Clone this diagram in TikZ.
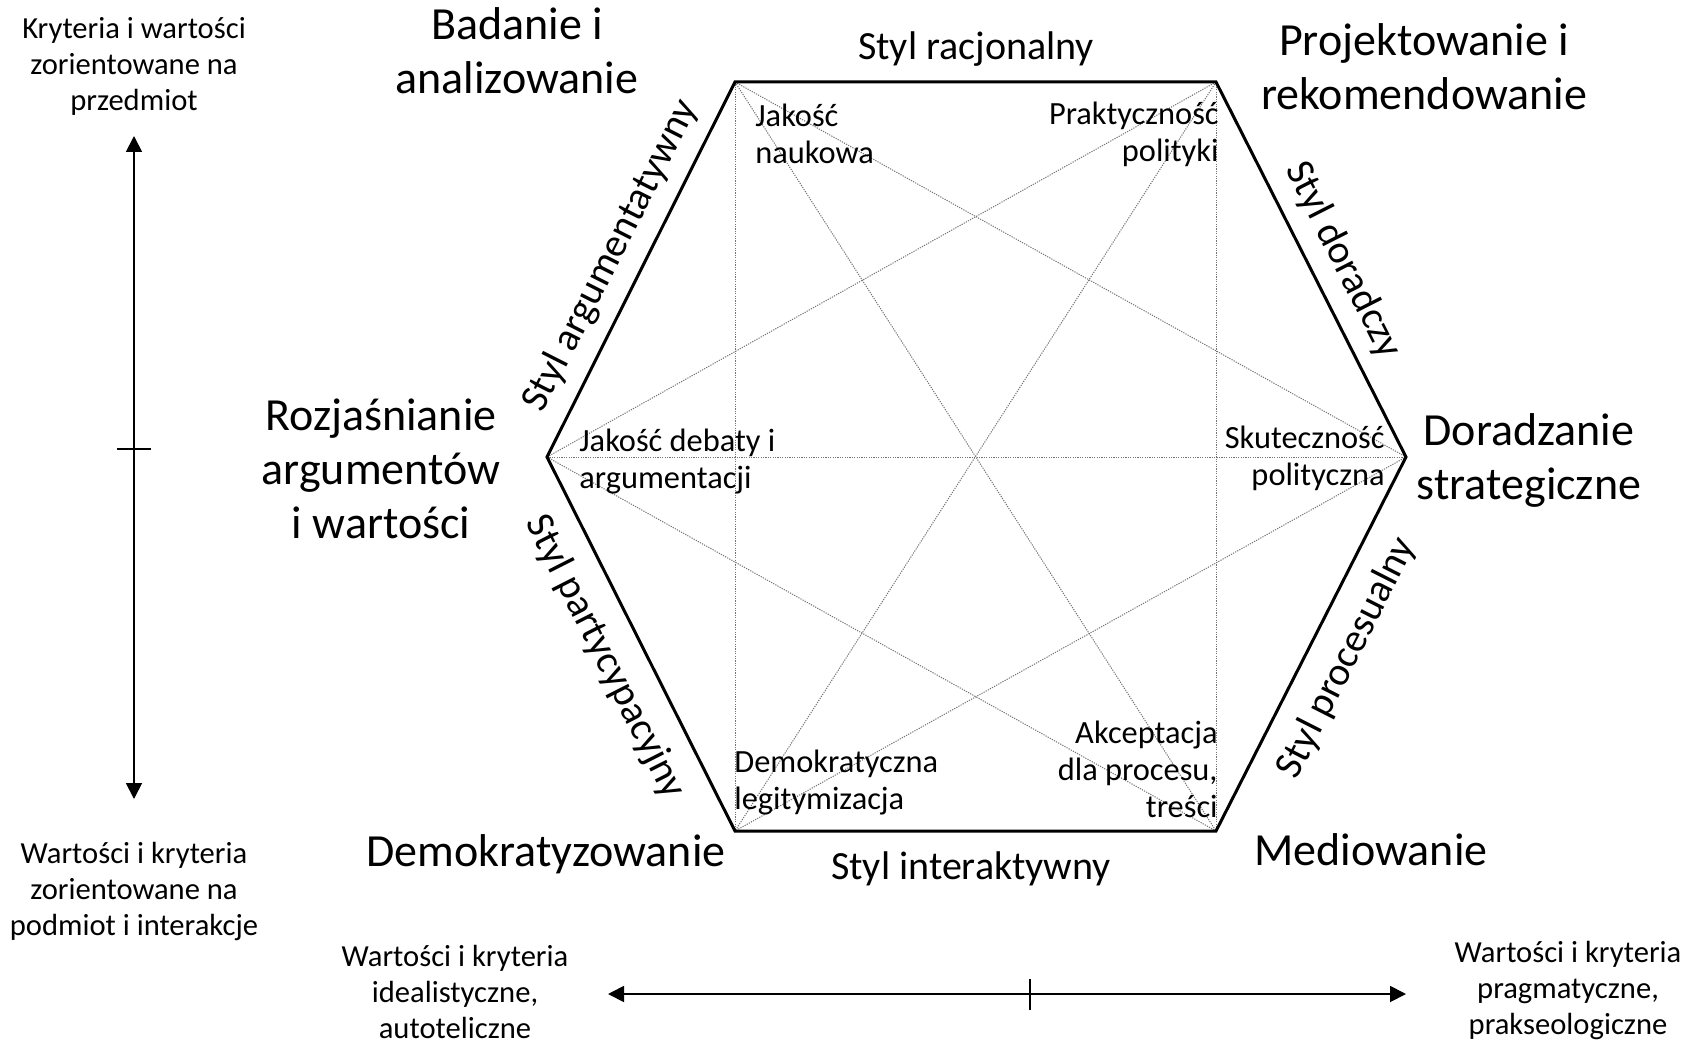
\documentclass[tikz,border=0pt]{standalone}
\usepackage{fontspec}
\setmainfont{Carlito}
\usetikzlibrary{arrows.meta}
\tikzset{
  big/.style={font=\fontsize{23}{27}\selectfont, align=center, inner sep=0pt},
  stylelbl/.style={font=\fontsize{20}{24}\selectfont, inner sep=0pt},
  inner/.style={font=\fontsize{16.2}{18.5}\selectfont, inner sep=0pt},
  axistxt/.style={font=\fontsize{15.3}{18}\selectfont, align=center, inner sep=0pt},
  hexedge/.style={line width=1.5pt, line join=miter},
  diag/.style={line width=0.5pt, black!55, dash pattern=on 0.6pt off 0.6pt},
  axis/.style={line width=0.9pt, {Triangle[width=8pt,length=8pt]}-{Triangle[width=8pt,length=8pt]}},
  tick/.style={line width=0.9pt}
}
\begin{document}
\begin{tikzpicture}[x=0.5pt,y=-0.5pt]
\useasboundingbox (0,0) rectangle (1696,1043);
% hexagon vertices
\coordinate (TL) at (735,82);
\coordinate (TR) at (1216,82);
\coordinate (R) at (1406,457);
\coordinate (BR) at (1216,831);
\coordinate (BL) at (735,831);
\coordinate (L) at (547,457);
% diagonals
\draw[diag] (TL) -- (BL);
\draw[diag] (TR) -- (BR);
\draw[diag] (L) -- (R);
\draw[diag] (TL) -- (R);
\draw[diag] (TL) -- (BR);
\draw[diag] (TR) -- (L);
\draw[diag] (TR) -- (BL);
\draw[diag] (L) -- (BR);
\draw[diag] (R) -- (BL);
% hexagon
\draw[hexedge] (TL) -- (TR) -- (R) -- (BR) -- (BL) -- (L) -- cycle;
% corner labels
\node[big] (bad) at (517,51) {Badanie i\\analizowanie};
\node[big] (proj) at (1424,67) {Projektowanie i\\rekomendowanie};
\node[big] (roz) at (381,469) {Rozjaśnianie\\argumentów\\i wartości};
\node[big] (dor) at (1529,460) {Doradzanie\\strategiczne};
\node[big] (dem) at (546,854) {Demokratyzowanie};
\node[big] (med) at (1371,850) {Mediowanie};
% style labels
\node[stylelbl] (sr) at (976,49) {Styl racjonalny};
\node[stylelbl] (si) at (971,869) {Styl interaktywny};
\node[stylelbl, rotate=63.1] (sa) at (611,256) {Styl argumentatywny};
\node[stylelbl, rotate=-63.1] (sd) at (1343,260) {Styl doradczy};
\node[stylelbl, rotate=-63.1] (sp) at (605,657) {Styl partycypacyjny};
\node[stylelbl, rotate=63.1] (spr) at (1347,658) {Styl procesualny};
% inner labels
\node[inner, align=left, anchor=west] (jn) at (755,134) {Jakość\\naukowa};
\node[inner, align=right, anchor=east] (pp) at (1219,134) {Praktyczność\\polityki};
\node[inner, align=left, anchor=west] (jd) at (579,462) {Jakość debaty i\\argumentacji};
\node[inner, align=right, anchor=east] (sk) at (1385,458) {Skuteczność\\polityczna};
\node[inner, align=left, anchor=west] (dl) at (734,783) {Demokratyczna\\legitymizacja};
\node[inner, align=right, anchor=east] (ak) at (1218,769) {Akceptacja\\dla procesu,\\treści};
% left axis
\node[axistxt] (lt) at (134,66) {Kryteria i wartości\\zorientowane na\\przedmiot};
\node[axistxt] (lb) at (134,891) {Wartości i kryteria\\zorientowane na\\podmiot i interakcje};
\coordinate (vt) at (134,136);
\coordinate (vb) at (134,799);
\draw[axis] (vb) -- (vt);
\coordinate (vtl) at (117,449);
\coordinate (vtr) at (151,449);
\draw[tick] (vtl) -- (vtr);
% bottom axis
\node[axistxt] (bl) at (455,992) {Wartości i kryteria\\idealistyczne,\\autoteliczne};
\node[axistxt] (brt) at (1568,990) {Wartości i kryteria\\pragmatyczne,\\prakseologiczne};
\coordinate (hl) at (608,994);
\coordinate (hr) at (1406,994);
\draw[axis] (hl) -- (hr);
\coordinate (htt) at (1030,979);
\coordinate (htb) at (1030,1010);
\draw[tick] (htt) -- (htb);
\end{tikzpicture}
\end{document}
